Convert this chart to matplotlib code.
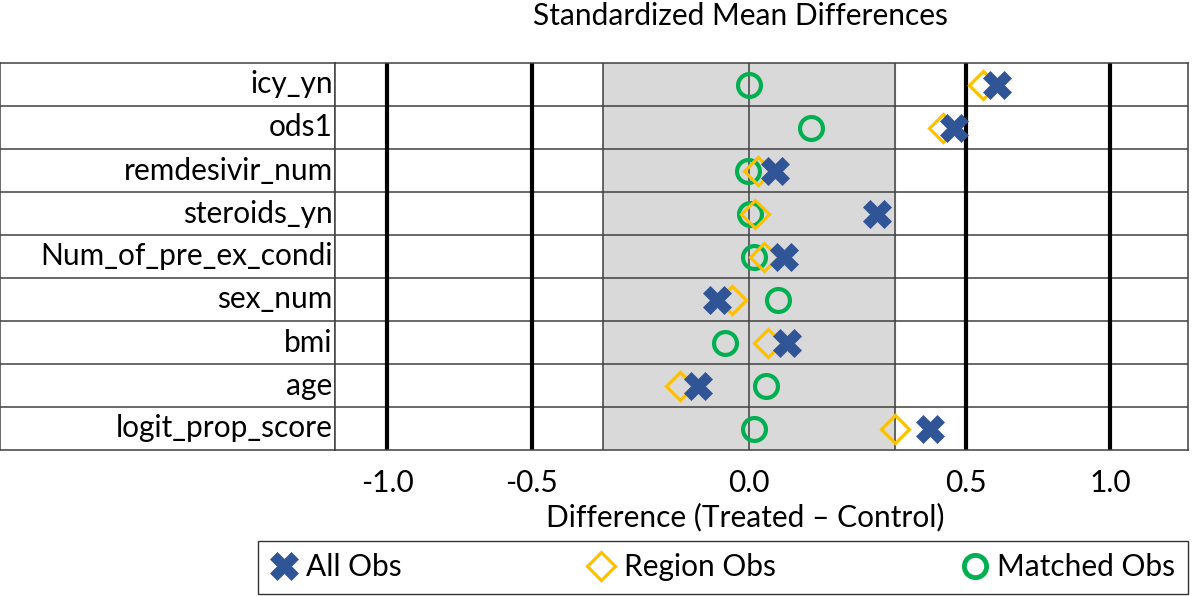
import numpy as np
import matplotlib
matplotlib.use("Agg")
import matplotlib.pyplot as plt
from matplotlib.lines import Line2D

plt.rcParams['font.family'] = ['Lato', 'DejaVu Sans']

# Data
variables = ['icy_yn', 'ods1', 'remdesivir_num', 'steroids_yn', 'Num_of_pre_ex_condi',
             'sex_num', 'bmi', 'age', 'logit_prop_score']
all_obs = [0.607, 0.473, 0.060, 0.295, 0.081, -0.074, 0.088, -0.118, 0.417]
region_obs = [0.559, 0.447, 0.021, 0.014, 0.035, -0.039, 0.044, -0.159, 0.337]
matched_obs = [0.000, 0.143, -0.002, 0.002, 0.011, 0.067, -0.055, 0.039, 0.011]
tick_values = [-1.0, -0.5, 0.0, 0.5, 1.0]
tick_labels = ['-1.0', '-0.5', '0.0', '0.5', '1.0']
thick_lines = [-1.0, -0.5, 0.5, 1.0]
band = (-0.337, 0.337)

blue = '#2F5597'
orange = '#FFC000'
green = '#00B050'
grid_col = '#404040'
fs = 21.5


# axis in the original is stretched inside +-0.5
def fwd(v):
    v = np.asarray(v, dtype=float)
    a = np.abs(v)
    return np.where(a <= 0.5, 1.2 * v, np.sign(v) * (0.6 + 0.8 * (a - 0.5)))


def inv(u):
    u = np.asarray(u, dtype=float)
    a = np.abs(u)
    return np.where(a <= 0.6, u / 1.2, np.sign(u) * (0.5 + (a - 0.6) / 0.8))


W, H = 1200, 596
fig = plt.figure(figsize=(W / 100, H / 100), dpi=100)

top = 1 - 63 / H
bottom = 1 - 450 / H
ax_lab = fig.add_axes([0, bottom, 335 / W, top - bottom])
ax = fig.add_axes([335 / W, bottom, (1188 - 335) / W, top - bottom])

n = len(variables)
y = np.arange(n)[::-1]

# label column
ax_lab.set_xlim(0, 1)
ax_lab.set_ylim(-0.5, n - 0.5)
ax_lab.set_xticks([])
ax_lab.set_yticks([])
for b in np.arange(n - 1) + 0.5:
    ax_lab.axhline(b, color=grid_col, lw=1.1)
for name, yy in zip(variables, y):
    ax_lab.text(0.993, yy, name, ha='right', va='center', fontsize=fs, color='black')
for s in ax_lab.spines.values():
    s.set_color(grid_col)
    s.set_linewidth(1.1)

# plot area
ax.set_xscale('function', functions=(fwd, inv))
ax.set_xlim(-1.181, 1.268)
ax.set_ylim(-0.5, n - 0.5)
ax.axvspan(band[0], band[1], color='#D9D9D9', zorder=0)
ax.axvline(band[0], color=grid_col, lw=1.1, zorder=1)
ax.axvline(band[1], color=grid_col, lw=1.1, zorder=1)
ax.axvline(0, color=grid_col, lw=1.1, zorder=1)
for b in np.arange(n - 1) + 0.5:
    ax.axhline(b, color=grid_col, lw=1.1, zorder=1)
for t in thick_lines:
    ax.axvline(t, color='black', lw=3, zorder=2)

ax.plot(matched_obs, y, 'o', ms=16.5, mfc='none', mec=green, mew=3, zorder=3)
ax.plot(region_obs, y, 'D', ms=14, mfc='none', mec=orange, mew=2.3, zorder=4)
ax.plot(all_obs, y, 'X', ms=20, mfc=blue, mec=blue, mew=0.5, zorder=5)

ax.set_yticks([])
ax.set_xticks(tick_values)
ax.set_xticklabels(tick_labels, fontsize=fs)
ax.xaxis.set_minor_locator(matplotlib.ticker.NullLocator())
ax.tick_params(axis='x', length=0, pad=14)
for s in ax.spines.values():
    s.set_color(grid_col)
    s.set_linewidth(1.1)

fig.text(745 / W, 1 - 517 / H, 'Difference (Treated \u2013 Control)', ha='center', va='center',
         fontsize=fs)
fig.text(740 / W, 1 - 16 / H, 'Standardized Mean Differences', ha='center', va='center',
         fontsize=fs)

handles = [
    Line2D([], [], ls='none', marker='X', ms=20, mfc=blue, mec=blue, mew=0.5),
    Line2D([], [], ls='none', marker='D', ms=14, mfc='none', mec=orange, mew=2.3),
    Line2D([], [], ls='none', marker='o', ms=16, mfc='none', mec=green, mew=3.5),
]
leg = fig.legend(handles, ['All Obs', 'Region Obs', 'Matched Obs'], ncol=3, mode='expand',
                 bbox_to_anchor=(258 / W, 2 / H, (1188 - 258) / W, 52 / H), loc='lower left',
                 fontsize=fs, frameon=True, fancybox=False, handletextpad=0.3,
                 handlelength=0.9, borderaxespad=0, borderpad=0.42)
leg.get_frame().set_edgecolor('black')
leg.get_frame().set_linewidth(1)

fig.savefig('out.png', dpi=100)
